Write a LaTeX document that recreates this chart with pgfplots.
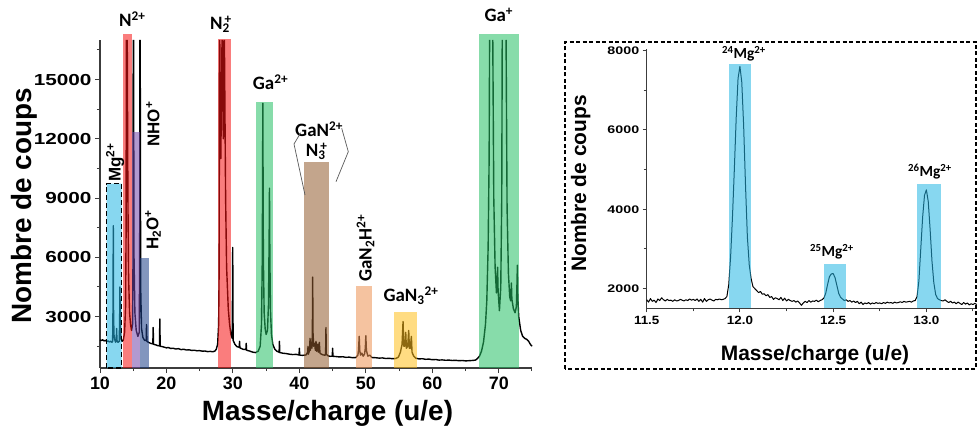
\documentclass[border=0pt]{standalone}
\usepackage{fontspec}
\setmainfont{Liberation Sans}
\newfontfamily\carlito{Carlito}
\usepackage{graphicx}
\usepackage{pgfplots}
\pgfplotsset{compat=1.18}
\definecolor{bblue}{RGB}{37,182,228}
\definecolor{bred}{RGB}{246,19,19}
\definecolor{bpurple}{RGB}{115,70,170}
\definecolor{bslate}{RGB}{28,64,137}
\definecolor{bgreen}{RGB}{37,191,100}
\definecolor{bbrown}{RGB}{146,91,46}
\definecolor{bpeach}{RGB}{237,146,82}
\definecolor{byellow}{RGB}{255,191,28}
\definecolor{axgray}{RGB}{60,60,60}
\pgfplotsset{
  myax/.style={
    scale only axis, axis x line*=bottom, axis y line*=left,
    tick align=outside, clip=false, scaled ticks=false,
    /pgf/number format/assume math mode=true,
    /pgf/number format/1000 sep={},
    axis line style={line width=1.1bp, axgray},
    every tick/.style={line width=1bp, axgray},
  },
  band/.style={draw=none, fill=#1, fill opacity=0.55},
}
\begin{document}
\begin{tikzpicture}
\path[use as bounding box] (0,0) rectangle (979bp,428bp);
% ---------------- main spectrum ----------------
\begin{axis}[myax,
  at={(100bp,60bp)}, anchor=south west,
  width=432bp, height=328bp,
  xmin=10, xmax=75, ymin=400, ymax=17000,
  xtick={10,20,...,70}, minor xtick={15,25,...,75},
  ytick={3000,6000,...,15000}, minor ytick={1500,4500,...,16500},
  major tick length=5bp, minor tick length=3bp,
  xticklabel style={font=\fontsize{18}{18}\selectfont\bfseries},
  yticklabel style={font=\fontsize{16}{16}\selectfont\bfseries},
  yticklabel={\scalebox{1.3}[1]{\pgfmathprintnumber{\tick}}},
  unbounded coords=jump,
]
\addplot[black, line width=1.4bp, line join=round] coordinates {
(10.0,1820) (10.2,1790) (10.4,1830) (10.6,1770) (10.8,1800) (11.0,1740) (11.2,1770) (11.4,1720)
(11.6,1750) (11.8,1700) (11.9,1750) (11.96,3500) (12.0,7600) (12.04,3200) (12.1,2100) (12.2,1850)
(12.35,1700) (12.45,1800) (12.5,2400) (12.55,1800) (12.7,1700) (12.9,1750) (12.96,3000) (13.0,4500)
(13.05,2600) (13.15,1900) (13.3,1750) (13.5,1800) (13.7,2200) (13.85,3500) (13.92,7000) (13.97,17000)
(14.04,nan) (14.1,17000) (14.2,9000) (14.3,5000) (14.45,3200) (14.6,2600) (14.75,2300) (14.9,2600) (14.97,6000)
(15.0,17000) (15.03,nan) (15.05,17000) (15.12,6000) (15.25,3200) (15.45,2300) (15.7,2000) (15.9,2200) (15.97,6000)
(16.0,17000) (16.03,nan) (16.05,17000) (16.12,4500) (16.25,2400) (16.45,1950) (16.7,1800) (16.95,1800) (17.0,2600)
(17.06,1750) (17.3,1700) (17.6,1650) (17.95,1620) (18.0,2450) (18.06,1600) (18.4,1570) (18.7,1530)
(18.95,1520) (19.0,2880) (19.06,1500) (19.4,1480) (19.7,1450) (20.0,1420) (20.3,1440) (20.6,1390)
(21.0,1400) (21.4,1360) (21.8,1380) (22.2,1330) (22.6,1350) (23.0,1310) (23.4,1320) (23.8,1290)
(24.2,1300) (24.6,1270) (25.0,1280) (25.4,1250) (25.8,1260) (26.2,1230) (26.6,1240) (27.0,1220)
(27.3,1260) (27.5,1350) (27.7,1600) (27.85,2600) (27.93,5500) (27.98,17000) (28.0,nan) (28.02,17000)
(28.18,11000) (28.36,17000) (28.38,nan) (28.4,17000) (28.55,12000) (28.68,17000) (28.7,nan) (28.72,17000)
(28.9,9000) (29.05,5500) (29.3,3400)
(29.5,2600) (29.7,2100) (29.9,1900) (29.97,6500) (30.03,1800) (30.3,1600) (30.6,1480) (30.95,1450)
(31.0,1750) (31.05,1420) (31.5,1350) (31.95,1330) (32.0,1650) (32.05,1300) (32.5,1260) (33.0,1200)
(33.4,1180) (33.8,1250) (34.1,1500) (34.3,2600) (34.42,6000) (34.5,13800) (34.58,6000) (34.7,3200)
(34.85,2400) (35.0,2100) (35.2,2300) (35.35,3600) (35.45,7000) (35.5,9500) (35.56,6000) (35.65,3300)
(35.8,2100) (36.0,1600) (36.3,1350) (36.6,1250) (36.95,1200) (37.0,1750) (37.05,1180) (37.5,1150)
(38.0,1130) (38.5,1100) (39.0,1080) (39.5,1090) (39.95,1060) (40.0,1400) (40.05,1050) (40.5,1040)
(41.0,1060) (41.25,1200) (41.3,1500) (41.35,1100) (41.55,1300) (41.6,1900) (41.65,1300) (41.8,1700)
(41.9,1400) (41.96,2500) (42.0,5000) (42.05,2200) (42.15,1500) (42.3,1650) (42.4,1300) (42.5,1750)
(42.6,1250) (42.75,1600) (42.85,1200) (43.0,1700) (43.1,1150) (43.3,1100) (43.6,1060) (43.9,1050)
(43.95,1200) (44.0,2450) (44.05,1100) (44.3,1020) (44.6,990) (44.95,1000) (45.0,1400) (45.05,990)
(45.5,980) (46.0,960) (46.5,970) (47.0,940) (47.5,950) (48.0,920) (48.5,930) (48.8,1050)
(48.9,1300) (49.0,2000) (49.08,1300) (49.2,1050) (49.4,1150) (49.6,1000) (49.8,1100) (49.92,1400)
(50.0,2030) (50.08,1300) (50.3,1000) (50.6,1050) (50.9,930) (51.5,920) (52.0,900) (52.5,910)
(53.0,880) (53.5,890) (54.0,870) (54.5,880) (54.9,950) (55.2,1200) (55.45,1600) (55.6,2750)
(55.7,1500) (55.85,1500) (56.0,2200) (56.1,1400) (56.3,1500) (56.45,2300) (56.55,1400) (56.7,1400)
(56.85,2000) (56.95,1200) (57.2,1000) (57.5,900) (58.0,860) (58.5,870) (59.0,840) (59.5,850)
(60.0,820) (60.5,830) (61.0,800) (61.5,810) (62.0,790) (62.5,800) (63.0,780) (63.5,790)
(64.0,770) (64.5,780) (65.0,760) (65.5,770) (66.0,780) (66.5,800) (66.8,880) (67.1,1000)
(67.4,1250) (67.7,1700) (68.0,2600) (68.2,3800) (68.4,6500) (68.55,11000) (68.62,17000) (68.85,nan) (69.1,17000)
(69.25,9000) (69.45,5500) (69.65,4200) (69.75,4400) (69.82,5500) (69.9,4300) (70.1,3300) (70.3,4500)
(70.45,9000) (70.52,17000) (70.8,nan) (71.1,17000) (71.25,8500) (71.45,5200) (71.65,4000) (71.8,3800) (71.9,4700)
(71.97,3900) (72.2,3400) (72.45,3200) (72.65,3500) (72.75,4800) (72.8,5600) (72.87,4000) (73.0,3000)
(73.3,2300) (73.6,2000) (73.9,1900) (74.2,1850) (74.5,1750) (74.75,1600) (75.0,1500)
};
% bands
\addplot[band=bblue, draw=black, draw opacity=1, dashed, dash pattern=on 5bp off 3bp, line width=1.2bp]
  coordinates {(11,400) (11,9730) (13.25,9730) (13.25,400) (11,400)};
\addplot[band=bred] coordinates {(13.5,400) (13.5,17290) (14.8,17290) (14.8,400)};
\addplot[band=bpurple] coordinates {(14.8,400) (14.8,12330) (16.0,12330) (16.0,400)};
\addplot[band=bslate] coordinates {(16.0,400) (16.0,5950) (17.35,5950) (17.35,400)};
\addplot[band=bred] coordinates {(27.7,400) (27.7,17030) (29.7,17030) (29.7,400)};
\addplot[band=bgreen] coordinates {(33.5,400) (33.5,13880) (36.1,13880) (36.1,400)};
\addplot[band=bbrown] coordinates {(40.7,400) (40.7,10810) (44.5,10810) (44.5,400)};
\addplot[band=bpeach] coordinates {(48.5,400) (48.5,4550) (50.9,4550) (50.9,400)};
\addplot[band=byellow] coordinates {(54.2,400) (54.2,3250) (57.7,3250) (57.7,400)};
\addplot[band=bgreen] coordinates {(67.1,400) (67.1,17290) (73.1,17290) (73.1,400)};
\end{axis}
% ---------------- inset ----------------
\begin{axis}[myax,
  at={(646.7bp,119.5bp)}, anchor=south west,
  width=330bp, height=259.6bp,
  xmin=11.5, xmax=13.27, ymin=1500, ymax=8040,
  xtick={11.5,12,12.5,13}, minor xtick={11.75,12.25,12.75,13.25},
  ytick={2000,4000,6000,8000}, minor ytick={3000,5000,7000},
  major tick length=4bp, minor tick length=3bp,
  xticklabel style={font=\fontsize{12}{12}\selectfont\bfseries},
  yticklabel style={font=\fontsize{11}{11}\selectfont\bfseries},
  xticklabel={\scalebox{1.12}[1]{\pgfmathprintnumber[fixed,fixed zerofill,precision=1]{\tick}}},
  yticklabel={\scalebox{1.3}[1]{\pgfmathprintnumber{\tick}}},
]
\addplot[black, line width=1bp, line join=round] coordinates {
(11.50,1720) (11.51,1660) (11.52,1750) (11.53,1680) (11.54,1710) (11.55,1650) (11.56,1740) (11.57,1700)
(11.58,1770) (11.59,1720) (11.60,1690) (11.61,1730) (11.62,1700) (11.63,1710) (11.64,1680) (11.65,1720)
(11.66,1690) (11.67,1700) (11.68,1730) (11.69,1710) (11.70,1690) (11.71,1720) (11.72,1700) (11.73,1740)
(11.74,1710) (11.75,1730) (11.76,1700) (11.77,1740) (11.78,1680) (11.79,1730) (11.80,1660) (11.81,1750)
(11.82,1680) (11.83,1720) (11.84,1740) (11.85,1710) (11.86,1690) (11.87,1730) (11.88,1720) (11.89,1740)
(11.90,1720) (11.91,1730) (11.92,1750) (11.93,1800) (11.94,2100) (11.95,2800) (11.96,3800) (11.97,5000)
(11.98,6300) (11.99,7300) (12.00,7600) (12.01,7200) (12.02,6100) (12.03,4600) (12.04,3300) (12.05,2600)
(12.06,2250) (12.07,2050) (12.08,2000) (12.09,1950) (12.10,1900) (12.11,1930) (12.12,1860) (12.13,1870)
(12.14,1820) (12.15,1850) (12.16,1780) (12.17,1800) (12.18,1730) (12.19,1770) (12.20,1750) (12.21,1720)
(12.22,1780) (12.23,1700) (12.24,1760) (12.25,1690) (12.26,1730) (12.27,1700) (12.28,1680) (12.29,1700)
(12.30,1660) (12.31,1690) (12.32,1640) (12.33,1580) (12.34,1640) (12.35,1680) (12.36,1650) (12.37,1700)
(12.38,1660) (12.39,1690) (12.40,1680) (12.41,1710) (12.42,1670) (12.43,1700) (12.44,1720) (12.45,1760)
(12.46,1880) (12.47,2100) (12.48,2300) (12.49,2370) (12.50,2380) (12.51,2280) (12.52,2080) (12.53,1880)
(12.54,1780) (12.55,1740) (12.56,1700) (12.57,1720) (12.58,1680) (12.59,1700) (12.60,1660) (12.61,1690)
(12.62,1650) (12.63,1680) (12.64,1620) (12.65,1660) (12.66,1600) (12.67,1640) (12.68,1620) (12.69,1650)
(12.70,1610) (12.71,1640) (12.72,1620) (12.73,1650) (12.74,1630) (12.75,1640) (12.76,1620) (12.77,1650)
(12.78,1630) (12.79,1660) (12.80,1640) (12.81,1650) (12.82,1630) (12.83,1660) (12.84,1640) (12.85,1650)
(12.86,1670) (12.87,1650) (12.88,1680) (12.89,1660) (12.90,1670) (12.91,1680) (12.92,1660) (12.93,1690)
(12.94,1700) (12.95,1800) (12.96,2200) (12.97,3000) (12.98,3800) (12.99,4350) (13.00,4490) (13.01,4200)
(13.02,3500) (13.03,2700) (13.04,2150) (13.05,1850) (13.06,1750) (13.07,1720) (13.08,1700) (13.09,1690)
(13.10,1720) (13.11,1680) (13.12,1650) (13.13,1680) (13.14,1640) (13.15,1660) (13.16,1620) (13.17,1660)
(13.18,1630) (13.19,1600) (13.20,1650) (13.21,1610) (13.22,1640) (13.23,1590) (13.24,1620) (13.25,1600)
(13.26,1630) (13.27,1600)
};
\addplot[band=bblue] coordinates {(11.94,1500) (11.94,7657) (12.06,7657) (12.06,1500)};
\addplot[band=bblue] coordinates {(12.45,1500) (12.45,2630) (12.57,2630) (12.57,1500)};
\addplot[band=bblue] coordinates {(12.95,1500) (12.95,4640) (13.08,4640) (13.08,1500)};
\end{axis}
% ---------------- titles ----------------
\node[anchor=base, font=\fontsize{28}{28}\selectfont\bfseries] at (327.5bp,7.3bp) {Masse/charge (u/e)};
\node[anchor=base, rotate=90, font=\fontsize{28}{28}\selectfont\bfseries] at (31.7bp,222bp) {Nombre de coups};
\node[anchor=base, font=\fontsize{21}{21}\selectfont\bfseries] at (815bp,67.3bp) {Masse/charge (u/e)};
\node[anchor=base, rotate=90, font=\fontsize{21}{21}\selectfont\bfseries] at (586bp,244.5bp) {Nombre de coups};
% ---------------- annotations ----------------
\begin{scope}[every node/.style={inner sep=0pt, font=\carlito\bfseries\fontsize{19}{19}\selectfont}]
\node[anchor=base west] at (119bp,401bp) {N\textsuperscript{2+}};
\node[anchor=base west] at (210bp,398.7bp) {N\rlap{\textsubscript{2}}\textsuperscript{\kern0.15em+}};
\node[anchor=base west] at (252.7bp,338.7bp) {Ga\textsuperscript{2+}};
\node[anchor=base west] at (295bp,291.3bp) {GaN\textsuperscript{2+}};
\node[anchor=base west] at (305.7bp,271bp) {N\rlap{\textsubscript{3}}\textsuperscript{\kern0.15em+}};
\node[anchor=base west, rotate=90] at (371.7bp,146.3bp) {GaN\textsubscript{2}H\textsuperscript{2+}};
\node[anchor=base west] at (383.3bp,126.3bp) {GaN\textsubscript{3}\textsuperscript{2+}};
\node[anchor=base west] at (484.3bp,406bp) {Ga\textsuperscript{+}};
\end{scope}
\begin{scope}[every node/.style={inner sep=0pt, font=\bfseries\fontsize{17}{17}\selectfont}]
\node[anchor=base west, rotate=90] at (120.7bp,246.3bp) {Mg\textsuperscript{2+}};
\node[anchor=base west, rotate=90] at (159.3bp,281.3bp) {NHO\textsuperscript{+}};
\node[anchor=base west, rotate=90] at (158.3bp,178bp) {H\textsubscript{2}O\textsuperscript{+}};
\end{scope}
\begin{scope}[every node/.style={inner sep=0pt, font=\carlito\bfseries\fontsize{15.5}{15.5}\selectfont}]
\node[anchor=base] at (744bp,369bp) {\textsuperscript{24}Mg\textsuperscript{2+}};
\node[anchor=base] at (832bp,171.3bp) {\textsuperscript{25}Mg\textsuperscript{2+}};
\node[anchor=base] at (930bp,251.3bp) {\textsuperscript{26}Mg\textsuperscript{2+}};
\end{scope}
% brackets
\draw[gray!70!black, line width=0.7bp] (300.7bp,295.3bp) -- (294bp,284bp) -- (305bp,233bp);
\draw[gray!70!black, line width=0.7bp] (341.7bp,299.7bp) -- (348.3bp,276.3bp) -- (336bp,246.3bp);
% inset frame
\draw[black, line width=1.2bp, dash pattern=on 4bp off 2.5bp] (565bp,59bp) rectangle (976bp,386bp);
\end{tikzpicture}
\end{document}
